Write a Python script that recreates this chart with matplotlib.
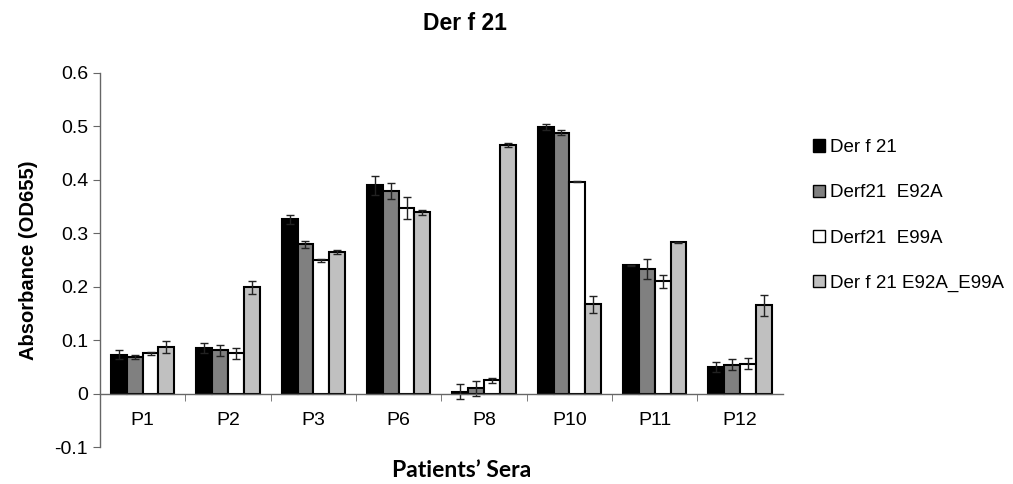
import numpy as np
import matplotlib.pyplot as plt
from matplotlib.patches import Patch

plt.rcParams['font.family'] = ['Liberation Sans', 'DejaVu Sans']

patients = ['P1', 'P2', 'P3', 'P6', 'P8', 'P10', 'P11', 'P12']
labels = ['Der f 21', 'Derf21  E92A', 'Derf21  E99A', 'Der f 21 E92A_E99A']
colors = ['#000000', '#808080', '#ffffff', '#c0c0c0']

wt = [0.073, 0.085, 0.326, 0.390, 0.003, 0.499, 0.240, 0.050]
e92a = [0.069, 0.081, 0.279, 0.379, 0.010, 0.488, 0.233, 0.054]
e99a = [0.075, 0.075, 0.249, 0.347, 0.025, 0.396, 0.210, 0.056]
double = [0.087, 0.199, 0.265, 0.339, 0.465, 0.167, 0.283, 0.165]

wt_err = [0.008, 0.010, 0.008, 0.018, 0.014, 0.005, 0.001, 0.009]
e92a_err = [0.004, 0.010, 0.006, 0.015, 0.014, 0.005, 0.019, 0.010]
e99a_err = [0.003, 0.010, 0.002, 0.020, 0.005, 0.001, 0.012, 0.010]
double_err = [0.011, 0.012, 0.004, 0.004, 0.004, 0.016, 0.001, 0.019]

series = [wt, e92a, e99a, double]
errors = [wt_err, e92a_err, e99a_err, double_err]

fig = plt.figure(figsize=(10.13, 4.84), dpi=100)
ax = fig.add_axes([0.0987, 0.0764, 0.674, 0.773])

x = np.arange(len(patients))
w = 0.185
for i, (vals, errs) in enumerate(zip(series, errors)):
    ax.bar(x + (i - 1.5) * w, vals, w, color=colors[i], edgecolor='black',
           linewidth=1.5, yerr=errs, capsize=3,
           error_kw=dict(ecolor='#222222', elinewidth=1, capthick=1))

ax.set_xlim(-0.5, len(patients) - 0.5)
ax.set_ylim(-0.1, 0.6)
ax.set_yticks(np.arange(-0.1, 0.61, 0.1))
ax.set_yticklabels(['-0.1', '0', '0.1', '0.2', '0.3', '0.4', '0.5', '0.6'])

ax.spines['top'].set_visible(False)
ax.spines['right'].set_visible(False)
ax.spines['bottom'].set_position(('data', 0))
for s in ['left', 'bottom']:
    ax.spines[s].set_color('#666666')
    ax.spines[s].set_linewidth(1)

ax.set_xticks(x)
ax.set_xticklabels(patients)
ax.set_xticks(np.arange(0.5, len(patients) - 0.5, 1), minor=True)
ax.tick_params(axis='x', which='major', length=0, pad=13, labelsize=14)
ax.tick_params(axis='x', which='minor', length=5, direction='out', color='#666666')
ax.tick_params(axis='y', length=5, direction='out', color='#666666', labelsize=14)

fig.text(0.459, 0.952, 'Der f 21', ha='center', va='center',
         fontsize=16.5, fontweight='bold')
fig.text(0.456, 0.028, 'Patients\u2019 Sera', ha='center', va='center',
         fontsize=16.5, fontweight='bold', family=['Lato', 'DejaVu Sans'])
ax.set_ylabel('Absorbance (OD655)', fontsize=14.5, fontweight='bold', labelpad=12)

handles = [Patch(facecolor=c, edgecolor='black', linewidth=1) for c in colors]
fig.legend(handles, labels, loc='upper left', bbox_to_anchor=(0.786, 0.747),
           frameon=False, fontsize=13.5, handlelength=0.65, handleheight=0.65,
           handletextpad=0.25, labelspacing=1.5)

fig.savefig('out.png', dpi=100)
